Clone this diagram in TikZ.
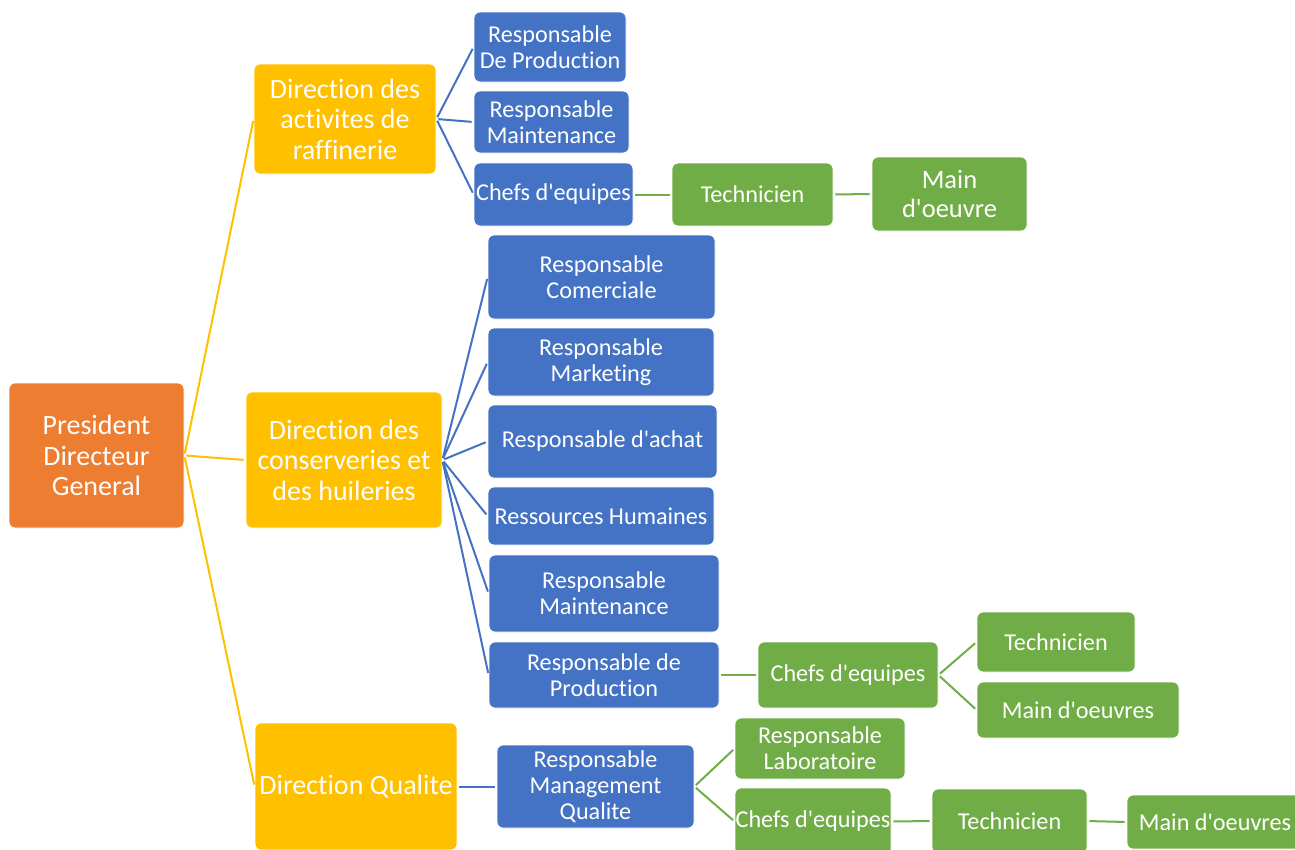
\documentclass[tikz,border=0pt]{standalone}
\usepackage{fontspec}
\setmainfont{Carlito}[Ligatures=NoCommon]
\definecolor{cOrange}{HTML}{ED7D31}
\definecolor{cYellow}{HTML}{FFC000}
\definecolor{cBlue}{HTML}{4472C4}
\definecolor{cGreen}{HTML}{70AD47}
\newcommand{\apo}{\textquotesingle}
\begin{document}
\begin{tikzpicture}[x=1pt,y=-1pt,
  box/.style={rectangle, rounded corners=6pt, draw=white, line width=0.8pt,
    text=white, align=center, inner sep=0pt},
  big/.style={box, font=\fontsize{28}{30.5}\selectfont},
  small/.style={box, font=\fontsize{24.2}{26}\selectfont},
  topbox/.style={big, fill=cOrange},
  dirbox/.style={big, fill=cYellow},
  bluebox/.style={small, fill=cBlue},
  greenbox/.style={small, fill=cGreen},
  link/.style={line width=2pt, shorten <=2pt, shorten >=2pt},
  ylink/.style={link, draw=cYellow},
  blink/.style={link, draw=cBlue},
  glink/.style={link, draw=cGreen},
  sz/.style 2 args={minimum width=#1pt, minimum height=#2pt}
]
\useasboundingbox (0,0) rectangle (1295,849);
\clip (0,0) rectangle (1295,849);

% top level
\node[topbox, sz={175}{145}] (pdg) at (96.5,455.5) {President\\Directeur\\General};

% directions
\node[dirbox, sz={182}{110}] (da) at (345,119) {Direction des\\activites de\\raffinerie};
\node[dirbox, sz={196}{136}] (dc) at (344,460) {Direction des\\conserveries et\\des huileries};
\node[dirbox, sz={202}{127}] (dq) at (356,786.5) {Direction Qualite};

% raffinerie branch
\node[bluebox, sz={152}{70}] (rdp1) at (550,47) {Responsable\\De Production};
\node[bluebox, sz={155}{62}] (rm1) at (551.5,122) {Responsable\\Maintenance};
\node[bluebox, sz={159}{63}] (ce1) at (553.5,194.5) {Chefs d\apo equipes};
\node[greenbox, sz={161}{63}] (te1) at (752.5,194.5) {Technicien};
\node[greenbox, font=\fontsize{26.5}{29}\selectfont, sz={155}{74}] (mo1) at (949.5,194) {Main\\d\apo oeuvre};

% conserveries branch
\node[bluebox, sz={227}{84}] (rc) at (601.5,277) {Responsable\\Comerciale};
\node[bluebox, sz={226}{68}] (rmk) at (601,362) {Responsable\\Marketing};
\node[bluebox, sz={229}{73}] (ra) at (602.5,441.5) {Responsable d\apo achat};
\node[bluebox, sz={226}{58}] (rh) at (601,516) {Ressources Humaines};
\node[bluebox, sz={230}{77}] (rm2) at (604,593.5) {Responsable\\Maintenance};
\node[bluebox, sz={230}{66}] (rdp2) at (604,675) {Responsable de\\Production};
\node[greenbox, sz={180}{66}] (ce2) at (848,675) {Chefs d\apo equipes};
\node[greenbox, sz={158}{60}] (te2) at (1056,642) {Technicien};
\node[greenbox, sz={202}{56}] (mo2) at (1078,710) {Main d\apo oeuvres};

% qualite branch
\node[bluebox, sz={197}{83}] (rmq) at (595.5,786.5) {Responsable\\Management\\Qualite};
\node[greenbox, sz={170}{61}] (rl) at (820,748.5) {Responsable\\Laboratoire};
\node[greenbox, sz={156}{67}] (ce3) at (813,821.5) {Chefs d\apo equipes};
\node[greenbox, sz={155}{64}] (te3) at (1009.5,821) {Technicien};
\node[greenbox, sz={176}{54}] (mo3) at (1215,822) {Main d\apo oeuvres};

% connectors
\draw[ylink] (pdg.east) -- (da.west);
\draw[ylink] (pdg.east) -- (dc.west);
\draw[ylink] (pdg.east) -- (dq.west);

\draw[blink] (da.east) -- (rdp1.west);
\draw[blink] (da.east) -- (rm1.west);
\draw[blink] (da.east) -- (ce1.west);
\draw[glink] (ce1.east) -- (te1.west);
\draw[glink] (te1.east) -- (mo1.west);

\foreach \c in {rc,rmk,ra,rh,rm2,rdp2}
  \draw[blink] (dc.east) -- (\c.west);
\draw[glink] (rdp2.east) -- (ce2.west);
\draw[glink] (ce2.east) -- (te2.west);
\draw[glink] (ce2.east) -- (mo2.west);

\draw[blink] (dq.east) -- (rmq.west);
\draw[glink] (rmq.east) -- (rl.west);
\draw[glink] (rmq.east) -- (ce3.west);
\draw[glink] (ce3.east) -- (te3.west);
\draw[glink] (te3.east) -- (mo3.west);
\end{tikzpicture}
\end{document}
